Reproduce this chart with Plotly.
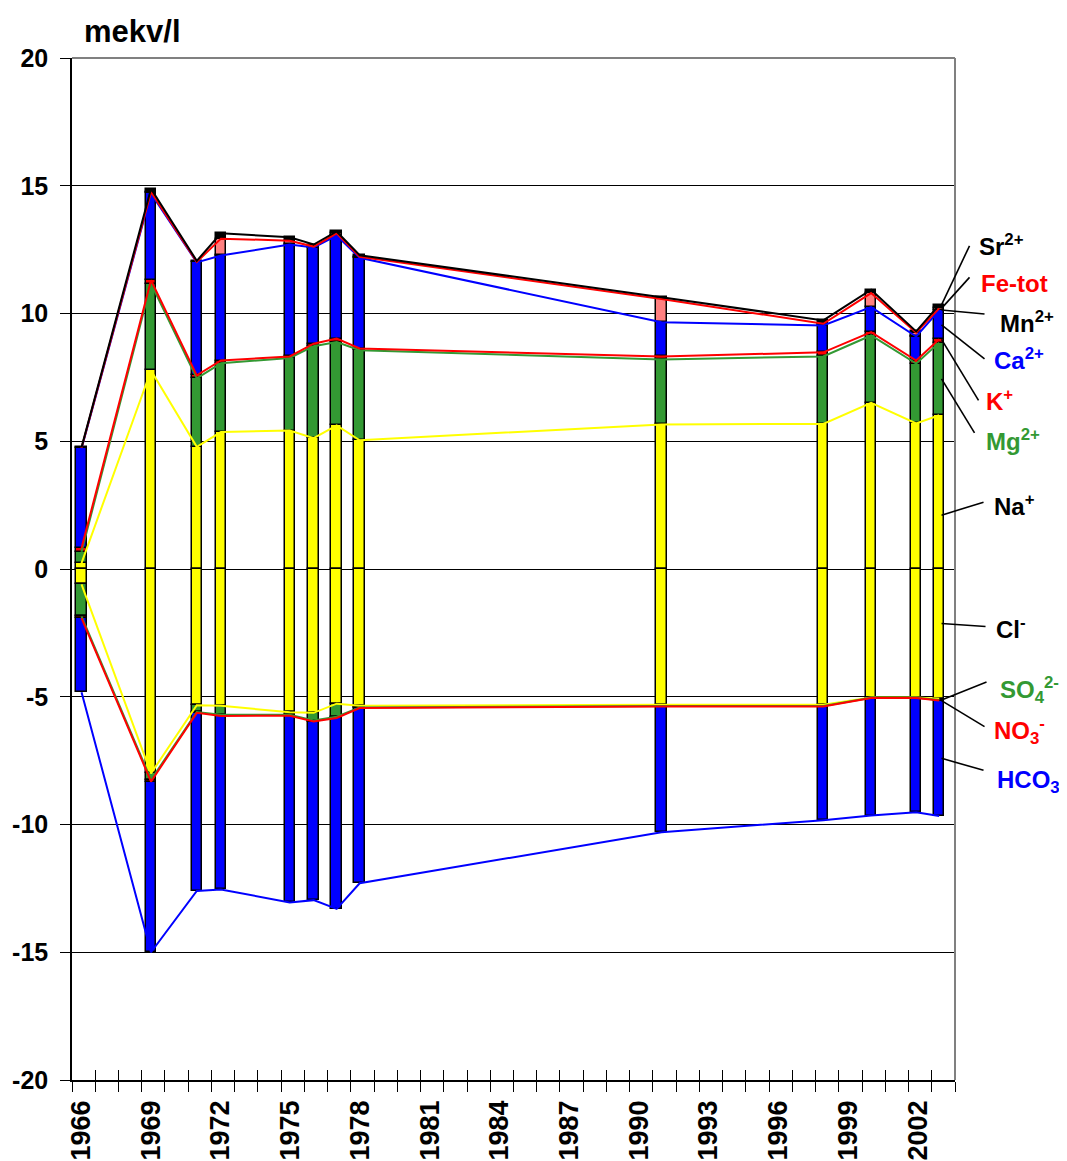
import numpy as np
import plotly.graph_objects as go

# ---------------- data (mekv/l) ----------------
sample_year = [1966.41, 1969.40, 1971.37, 1972.41, 1975.37, 1976.40, 1977.39,
               1978.38, 1991.37, 1998.33, 2000.39, 2002.33, 2003.32]

# cations (positive)
na = [0.23, 7.77, 4.78, 5.36, 5.42, 5.12, 5.62, 5.04, 5.66, 5.68, 6.50, 5.70, 6.02]
mg = [0.45, 3.40, 2.68, 2.69, 2.84, 3.60, 3.26, 3.52, 2.54, 2.64, 2.64, 2.34, 2.84]
k = [0.14, 0.13, 0.12, 0.11, 0.06, 0.10, 0.14, 0.07, 0.12, 0.16, 0.13, 0.12, 0.13]
ca = [3.90, 3.40, 4.42, 4.11, 4.38, 3.76, 4.03, 3.55, 1.34, 1.05, 0.98, 0.94, 1.13]
mn = [0.01, 0.01, 0.01, 0.03, 0.02, 0.01, 0.02, 0.01, 0.02, 0.02, 0.02, 0.02, 0.02]
fe = [0.01, 0.05, 0.01, 0.63, 0.13, 0.03, 0.07, 0.03, 0.89, 0.05, 0.53, 0.13, 0.06]
sr = [0.02, 0.12, 0.04, 0.21, 0.13, 0.08, 0.07, 0.06, 0.07, 0.13, 0.13, 0.05, 0.14]

# anions (drawn negative)
cl = [0.60, 8.00, 5.33, 5.35, 5.61, 5.63, 5.27, 5.35, 5.31, 5.31, 5.03, 5.03, 5.08]
so4 = [1.25, 0.25, 0.27, 0.35, 0.09, 0.30, 0.51, 0.07, 0.05, 0.05, 0.01, 0.01, 0.05]
no3 = [0.07, 0.07, 0.03, 0.05, 0.04, 0.04, 0.05, 0.02, 0.02, 0.02, 0.01, 0.01, 0.02]
hco3 = [2.90, 6.68, 6.97, 6.79, 7.31, 6.99, 7.47, 6.86, 4.92, 4.45, 4.60, 4.47, 4.52]

label_years = [1966, 1969, 1972, 1975, 1978, 1981, 1984, 1987, 1990, 1993, 1996, 1999, 2002]
y_ticks = [-20, -15, -10, -5, 0, 5, 10, 15, 20]
X_RANGE = [1966, 2004]
Y_RANGE = [-20, 20]

# ---------------- styling ----------------
YELLOW, GREEN, RED, BLUE, PINK, BLACK = "#FFFF00", "#339933", "#FF0000", "#0000FF", "#FF8080", "#000000"
SANS = "Liberation Sans, Arial, sans-serif"

cations = [(na, YELLOW), (mg, GREEN), (k, RED), (ca, BLUE), (mn, BLACK), (fe, PINK), (sr, BLACK)]
anions = [(cl, YELLOW), (so4, GREEN), (no3, RED), (hco3, BLUE)]

fig = go.Figure()

for vals, col in cations:
    fig.add_trace(go.Bar(x=sample_year, y=vals, width=0.45,
                         marker=dict(color=col, line=dict(color="black", width=1.5)),
                         showlegend=False, hoverinfo="skip"))
for vals, col in anions:
    fig.add_trace(go.Bar(x=sample_year, y=[-v for v in vals], width=0.45,
                         marker=dict(color=col, line=dict(color="black", width=1.5)),
                         showlegend=False, hoverinfo="skip"))

cat_arr = np.array([na, mg, k, ca, mn, fe, sr])
cat_cum = np.cumsum(cat_arr, axis=0)
an_arr = np.array([cl, so4, no3, hco3])
an_cum = -np.cumsum(an_arr, axis=0)

# cumulative lines (Na, Mg, K, Ca, Fe-tot, total)
pos_lines = [(0, YELLOW), (1, GREEN), (2, RED), (3, BLUE), (5, RED), (6, BLACK)]
for idx, col in pos_lines:
    fig.add_trace(go.Scatter(x=sample_year, y=cat_cum[idx], mode="lines",
                             line=dict(color=col, width=2), showlegend=False, hoverinfo="skip"))
neg_lines = [(0, YELLOW), (1, GREEN), (2, RED), (3, BLUE)]
for idx, col in neg_lines:
    fig.add_trace(go.Scatter(x=sample_year, y=an_cum[idx], mode="lines",
                             line=dict(color=col, width=2), showlegend=False, hoverinfo="skip"))

# dummy trace for the overlay axis carrying the inner half of the year ticks
fig.add_trace(go.Scatter(x=X_RANGE, y=[Y_RANGE[0]] * 2, xaxis="x2", mode="lines",
                         line=dict(width=0), showlegend=False, hoverinfo="skip"))

# ---------------- geometry (page pixels; page body has an 8px margin) ----------------
BODY = 8
L, R, T, B = 72, 955, 58, 1080          # plot area in page pixels
PAGE_W, PAGE_H = 1067, 1161
W, H = PAGE_W - BODY, PAGE_H - BODY


def pxp(x):
    return (x - L) / (R - L)


def pyp(y):
    return (B - y) / (B - T)


def data_to_paper_x(v):
    return (v - X_RANGE[0]) / (X_RANGE[1] - X_RANGE[0])


def data_to_paper_y(v):
    return (v - Y_RANGE[0]) / (Y_RANGE[1] - Y_RANGE[0])


annotations = [dict(text="<b>mekv/l</b>", x=pxp(82), y=pyp(31), xref="paper", yref="paper",
                    xanchor="left", yanchor="middle", showarrow=False,
                    font=dict(family=SANS, size=31, color="black"))]
shapes = [
    dict(type="line", xref="paper", yref="paper", x0=0, x1=1, y0=1, y1=1,
         line=dict(color="#808080", width=2), layer="above"),
    dict(type="line", xref="paper", yref="paper", x0=1, x1=1, y0=0, y1=1,
         line=dict(color="#808080", width=2), layer="above"),
]

last = len(sample_year) - 1
hx = data_to_paper_x(sample_year[last] + 0.1)
# (label html, colour, head y value, tail dx px, tail dy px, label left px, label centre y px)
labels = [
    ("Sr<sup>2+</sup>", BLACK, cat_cum[6][last], 28, -59, 977, 245),
    ("Fe-tot", RED, cat_cum[5][last], 28, -31, 979, 283),
    ("Mn<sup>2+</sup>", BLACK, cat_cum[4][last], 43, 4, 998, 322),
    ("Ca<sup>2+</sup>", BLUE, (cat_cum[2][last] + cat_cum[3][last]) / 2, 43, 34, 992, 359),
    ("K<sup>+</sup>", RED, cat_cum[2][last], 37, 61, 984, 400),
    ("Mg<sup>2+</sup>", GREEN, (cat_cum[0][last] + cat_cum[1][last]) / 2, 33, 54, 984, 440),
    ("Na<sup>+</sup>", BLACK, cat_cum[0][last] * 0.35, 42, -13, 992, 505),
    ("Cl<sup>-</sup>", BLACK, an_cum[0][last] * 0.42, 44, 3, 994, 628),
    ("SO<sub>4</sub><sup>2-</sup>", GREEN, an_cum[1][last], 45, -18, 998, 690),
    ("NO<sub>3</sub><sup>-</sup>", RED, an_cum[2][last], 43, 26, 992, 731),
    ("HCO<sub>3</sub><sup>-</sup>", BLUE, (an_cum[2][last] + an_cum[3][last]) / 2, 42, 12, 995, 780),
]
pw, ph = R - L, B - T
for txt, col, hy, dx, dy, lx, ly in labels:
    hyp = data_to_paper_y(hy)
    shapes.append(dict(type="line", xref="paper", yref="paper",
                       x0=hx, y0=hyp, x1=hx + dx / pw, y1=hyp - dy / ph,
                       line=dict(color="black", width=1.6), layer="above"))
    annotations.append(dict(text="<b>" + txt + "</b>", x=pxp(lx), y=pyp(ly), xref="paper", yref="paper",
                            xanchor="left", yanchor="middle", showarrow=False,
                            font=dict(family=SANS, size=24, color=col)))

fig.update_layout(
    width=W, height=H,
    margin=dict(l=L - BODY, r=PAGE_W - R, t=T - BODY, b=PAGE_H - B, pad=0, autoexpand=False),
    paper_bgcolor="white", plot_bgcolor="white",
    barmode="relative", bargap=0,
    annotations=annotations, shapes=shapes,
    xaxis=dict(range=X_RANGE, tickmode="array", automargin=False,
               tickvals=[yv + 0.4 for yv in label_years], ticktext=[str(yv) for yv in label_years],
               tickangle=-90, ticks="", ticklen=0, ticklabelstandoff=8,
               tickfont=dict(family=SANS, size=27, color="black", weight="bold"),
               showline=True, linecolor="black", linewidth=1.5, showgrid=False, zeroline=False,
               minor=dict(tickmode="array", tickvals=list(range(X_RANGE[0], X_RANGE[1] + 1)),
                          ticks="outside", ticklen=10, tickwidth=1, tickcolor="black", showgrid=False)),
    xaxis2=dict(range=X_RANGE, overlaying="x", anchor="y", side="bottom", automargin=False,
                tickmode="array", tickvals=list(range(X_RANGE[0], X_RANGE[1] + 1)), ticks="inside",
                ticklen=10, tickwidth=1, tickcolor="black", showticklabels=False,
                showgrid=False, zeroline=False, showline=False),
    yaxis=dict(range=Y_RANGE, tickmode="array", tickvals=y_ticks, automargin=False,
               ticktext=[str(v) for v in y_ticks],
               ticks="outside", ticklen=10, tickwidth=1, tickcolor="black", ticklabelstandoff=7,
               tickfont=dict(family=SANS, size=25, color="black", weight="bold"),
               showline=True, linecolor="black", linewidth=1.5,
               showgrid=True, gridcolor="black", gridwidth=1, zeroline=False),
)

fig.write_html("out.html")
